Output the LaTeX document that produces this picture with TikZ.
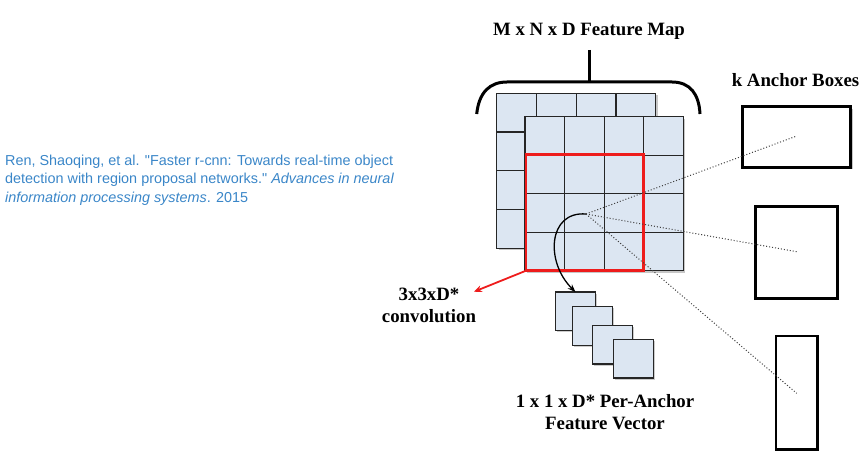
\documentclass[tikz,border=0pt]{standalone}
\usepackage{fontspec}
\setmainfont{Liberation Serif}
\newfontfamily\citefont{Liberation Sans}
\usetikzlibrary{arrows.meta}
\definecolor{cellfill}{HTML}{DCE6F2}
\definecolor{citeblue}{HTML}{3A86C8}
\definecolor{redbox}{HTML}{EE1C1C}
\definecolor{dotgray}{HTML}{404040}
\tikzset{
  lbl/.style={font=\fontsize{18.8}{21}\selectfont\bfseries, align=center, inner sep=0pt},
  cite/.style={font=\citefont\fontsize{14.4}{18.2}\selectfont, text=citeblue, align=left, anchor=north west, inner sep=0pt},
  gridline/.style={draw=black!85, line width=1.3pt},
  shadowbox/.style={fill=black!22},
  anchorbox/.style={draw=black, fill=white, line width=2.6pt},
  featsq/.style={draw=black!85, fill=cellfill, line width=1.2pt},
  dotline/.style={draw=dotgray, line width=1pt, dotted},
}
\begin{document}
\begin{tikzpicture}[x=1pt,y=-1pt]
\useasboundingbox (0,0) rectangle (861,462);
% citation
\node[cite] (cite) at (5,155) {Ren, Shaoqing, et al. "Faster r-cnn: Towards real-time object\\detection with region proposal networks." \textit{Advances in neural}\\\textit{information processing systems}. 2015};
% title and bracket
\node[lbl] (title) at (589,31) {M x N x D Feature Map};
\draw[line width=3pt] (476.7,114) .. controls (479,92) and (490,82) .. (507,82) -- (672,82) .. controls (690,82) and (699,94) .. (700,114);
\draw[line width=3pt] (589.3,50) -- (589.3,82);
% back grid
\fill[shadowbox] (498.7,95.3) rectangle (657.7,250.3);
\fill[cellfill] (496.7,93.3) rectangle (655.7,248.3);
\foreach \x in {536.5,576.2,616} \draw[gridline] (\x,93.3) -- (\x,248.3);
\foreach \y in {132,170.7,209.5} \draw[gridline] (496.7,\y) -- (655.7,\y);
\draw[gridline] (496.7,93.3) rectangle (655.7,248.3);
% front grid
\fill[shadowbox] (527,118.7) rectangle (685.3,272.7);
\fill[cellfill] (525,116.7) rectangle (683.3,270.7);
\foreach \x in {564.6,604.2,643.7} \draw[gridline] (\x,116.7) -- (\x,270.7);
\foreach \y in {155.2,193.7,232.2} \draw[gridline] (525,\y) -- (683.3,\y);
\draw[gridline] (525,116.7) rectangle (683.3,270.7);
% red 3x3 window
\draw[draw=redbox, line width=2.6pt] (526,154.3) rectangle (643.7,270.7);
\coordinate (rbl) at (526,270.7);
\coordinate (ctr) at (586,214);
% anchor boxes
\fill[shadowbox] (744.7,108.7) rectangle (852.7,169.3);
\draw[anchorbox] (742.7,106.7) rectangle (850.7,167.3);
\fill[shadowbox] (757.3,208.7) rectangle (839.3,300.3);
\draw[anchorbox] (755.3,206.7) rectangle (837.3,298.3);
\fill[shadowbox] (778,338) rectangle (819.3,451.3);
\draw[anchorbox] (776,336) rectangle (817.3,449.3);
\coordinate (a1) at (796.7,136);
\coordinate (a2) at (796.7,251.7);
\coordinate (a3) at (796.7,393.3);
\node[lbl] (ktitle) at (795.5,80) {k Anchor Boxes};
% dotted lines
\draw[dotline] (ctr) -- (a1);
\draw[dotline] (ctr) -- (a2);
\draw[dotline] (ctr) -- (a3);
% feature vector squares
\foreach \x/\y [count=\i] in {555.7/292, 572.3/306.7, 592.7/325.3, 613.3/339.3} {
  \fill[black!20] (\x+1.5,\y+1.5) rectangle (\x+41.5,\y+40.2);
  \path[featsq] (\x,\y) rectangle (\x+40,\y+38.7);
  \coordinate (sq\i) at (\x+20,\y);
}
% curved arrow
\draw[line width=1.3pt, -{Stealth[length=8pt,width=6pt]}] (ctr) .. controls (548,211) and (545,262) .. (575.5,292);
% red arrow
\node[lbl] (conv) at (429,305) {3x3xD*\\[1pt]convolution};
\draw[redbox, line width=1.8pt, -{Stealth[length=8pt,width=7pt]}] (rbl) -- (474,291.7);
% feature vector label
\node[lbl] (fvec) at (605,412.5) {1 x 1 x D* Per-Anchor\\[1pt]Feature Vector};
\end{tikzpicture}
\end{document}
